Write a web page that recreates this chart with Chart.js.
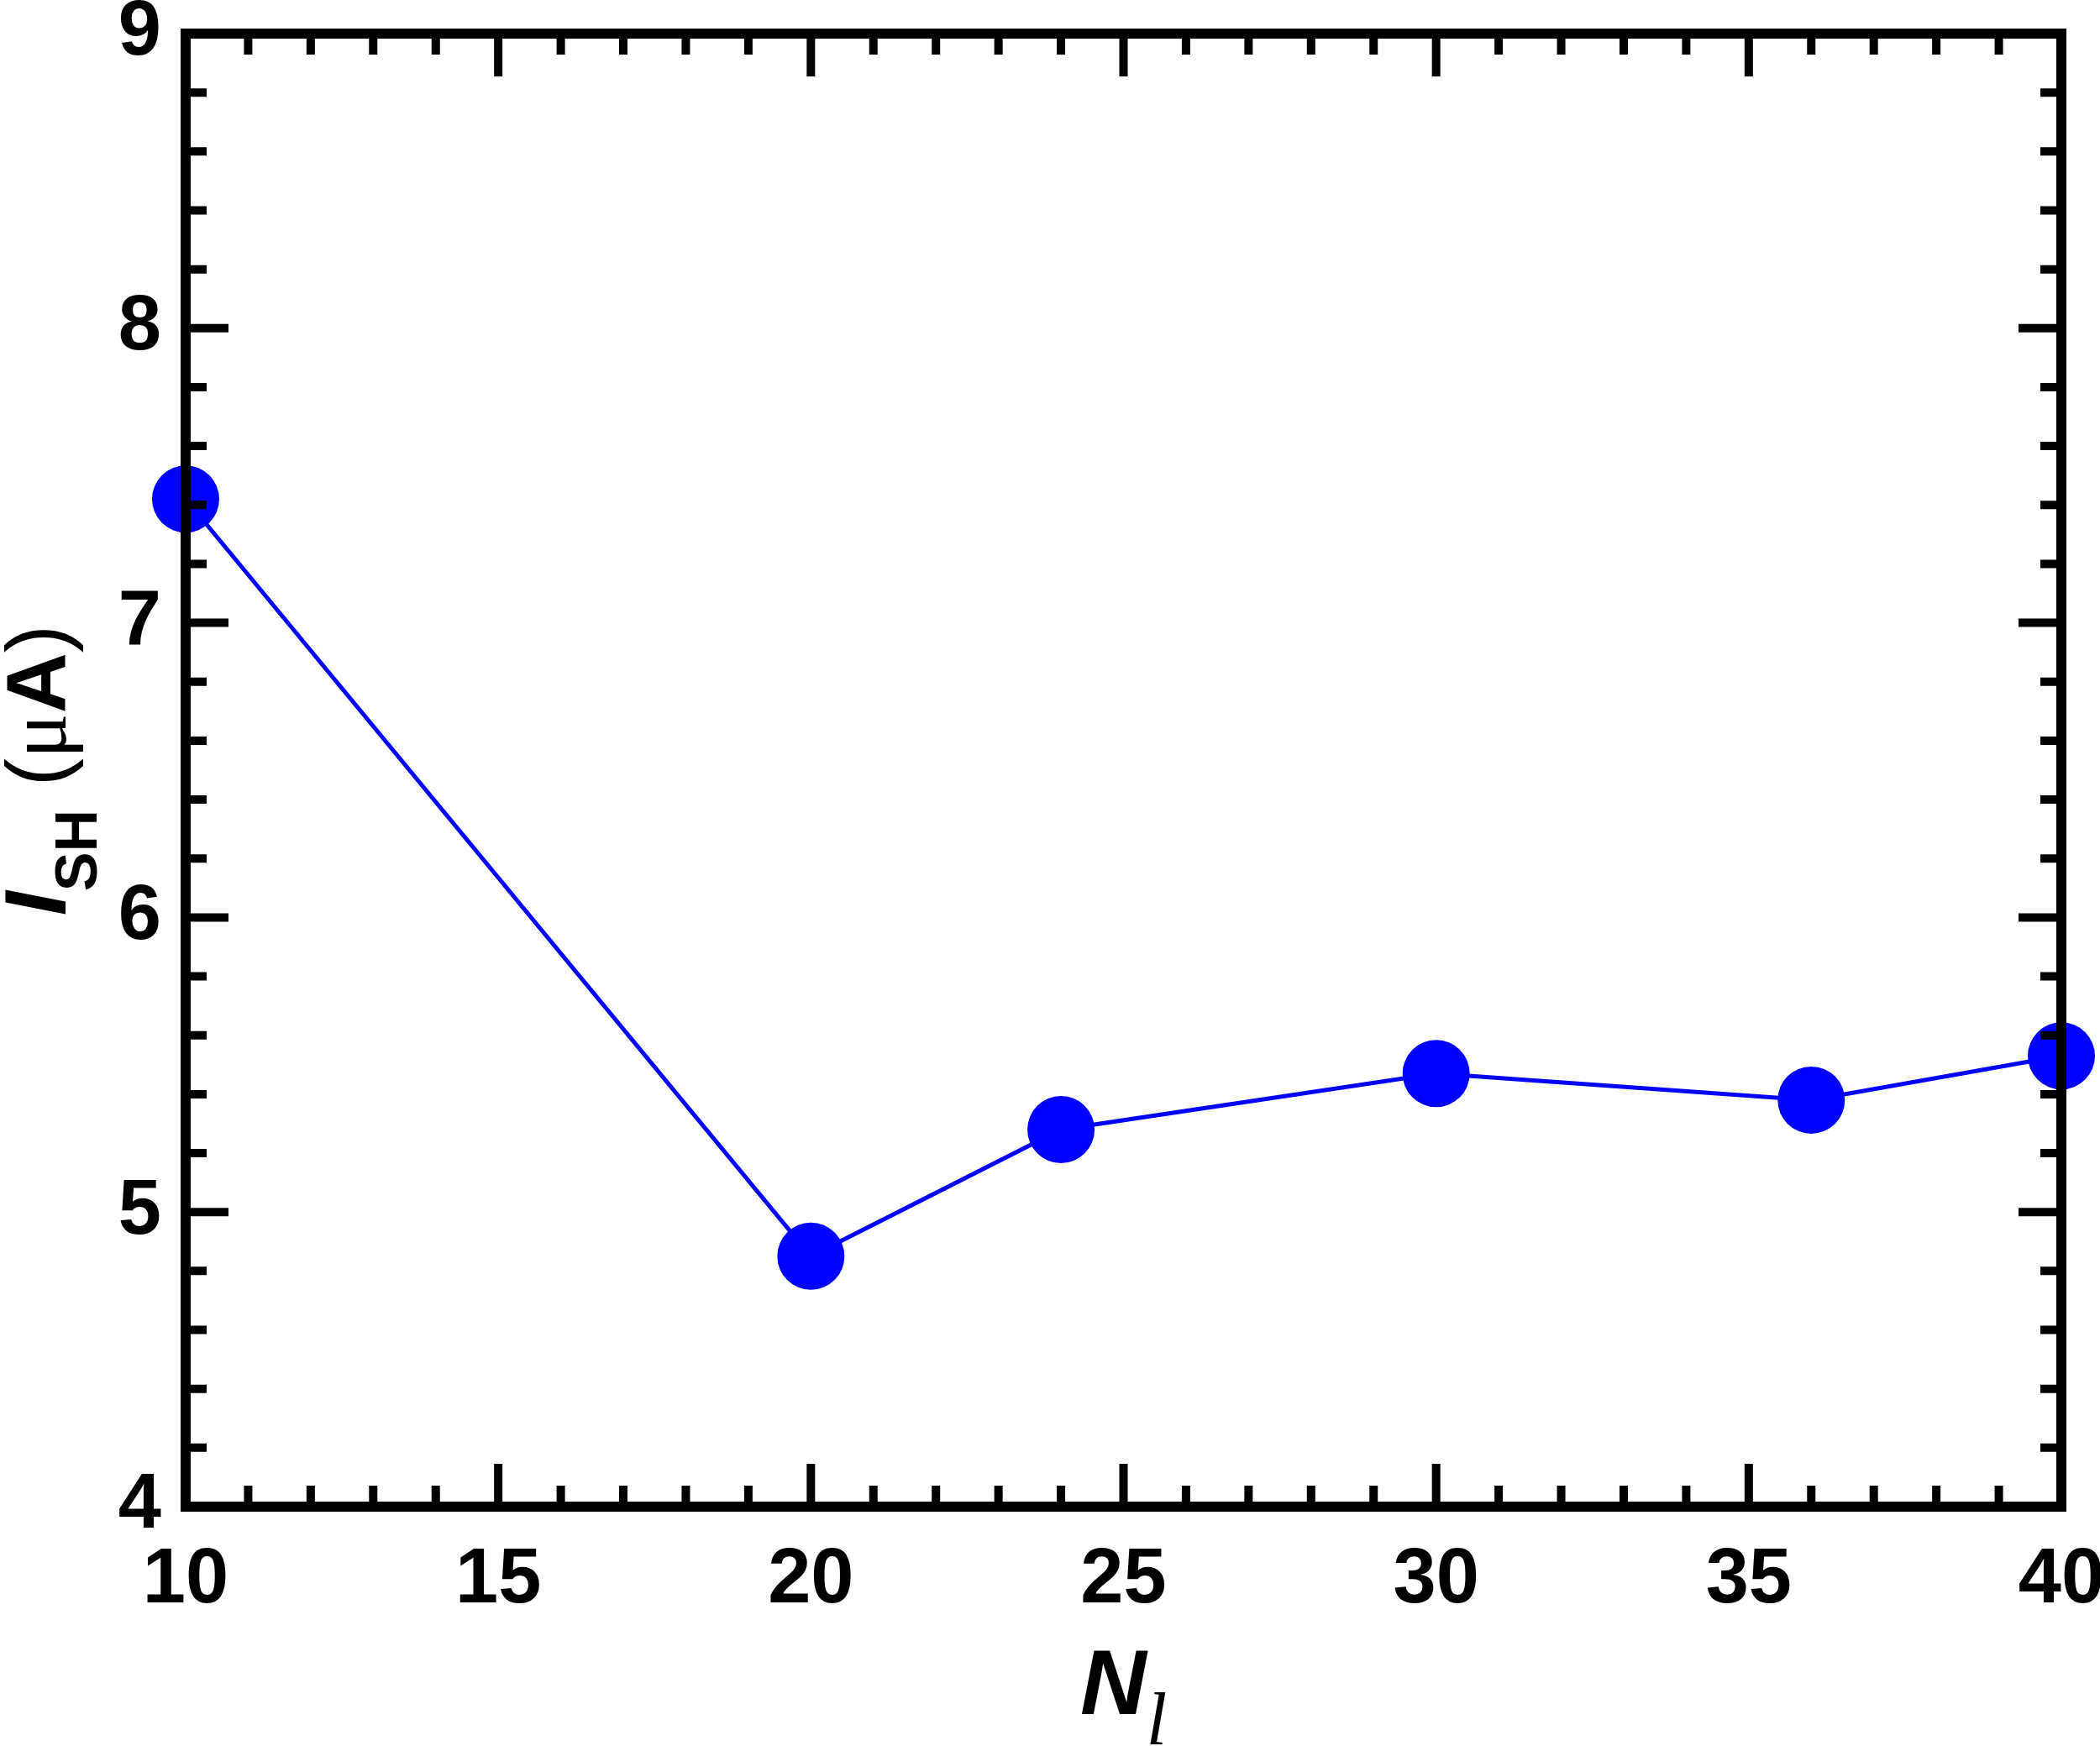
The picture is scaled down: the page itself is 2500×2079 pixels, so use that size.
<!DOCTYPE html>
<html>
<head>
<meta charset="utf-8">
<script src="https://cdn.jsdelivr.net/npm/chart.js@4/dist/chart.umd.min.js"></script>
<style>
  html, body { margin: 0; padding: 0; background: #fff; }
  #wrap { width: 2500px; height: 2079px; position: relative; }
</style>
</head>
<body>
<div id="wrap"><canvas id="myChart"></canvas></div>
<script>
// data
const nl = [10, 20, 24, 30, 36, 40];
const ish = [7.42, 4.85, 5.28, 5.47, 5.38, 5.53];
const xTicks = [10, 15, 20, 25, 30, 35, 40];
const yTicks = [4, 5, 6, 7, 8, 9];
const xMinorStep = 1;
const yMinorStep = 0.2;

const FONT = "'Liberation Sans', Arial, Helvetica, sans-serif";
const SERIF = "'Liberation Serif', 'Times New Roman', serif";

// frame with inward ticks on all four sides, drawn over the points
Chart.register({
    id: 'framePlugin',
    afterDatasetsDraw: function(chart) {
        const ctx = chart.ctx;
        const a = chart.chartArea;
        const xs = chart.scales.x;
        const ys = chart.scales.y;
        const majorLen = 51, minorLen = 25;

        ctx.save();
        ctx.strokeStyle = '#000';
        ctx.lineCap = 'butt';

        // ticks
        ctx.lineWidth = 10;
        ctx.beginPath();
        for (let v = xs.min; v <= xs.max + 1e-9; v += xMinorStep) {
            const px = xs.getPixelForValue(v);
            const len = xTicks.some(t => Math.abs(t - v) < 1e-6) ? majorLen : minorLen;
            ctx.moveTo(px, a.bottom); ctx.lineTo(px, a.bottom - len);
            ctx.moveTo(px, a.top); ctx.lineTo(px, a.top + len);
        }
        for (let v = ys.min; v <= ys.max + 1e-9; v += yMinorStep) {
            const py = ys.getPixelForValue(v);
            const len = yTicks.some(t => Math.abs(t - v) < 1e-6) ? majorLen : minorLen;
            ctx.moveTo(a.left, py); ctx.lineTo(a.left + len, py);
            ctx.moveTo(a.right, py); ctx.lineTo(a.right - len, py);
        }
        ctx.stroke();

        // box
        ctx.lineWidth = 12;
        ctx.lineJoin = 'miter';
        ctx.strokeRect(a.left, a.top, a.right - a.left, a.bottom - a.top);
        ctx.restore();
    },
    afterDraw: function(chart) {
        const ctx = chart.ctx;
        const a = chart.chartArea;
        ctx.save();
        ctx.fillStyle = '#000';
        ctx.textBaseline = 'alphabetic';
        ctx.textAlign = 'left';

        // x title: N_l
        const fN = 'italic bold 109px ' + FONT;
        const fl = 'italic 88px ' + SERIF;
        ctx.font = fN; const wN = ctx.measureText('N').width;
        ctx.font = fl; const wl = ctx.measureText('l').width;
        let x0 = (a.left + a.right) / 2 - (wN + wl) / 2;
        ctx.font = fN; ctx.fillText('N', x0, 2041);
        ctx.font = fl; ctx.fillText('l', x0 + wN, 2077);

        // y title: I_SH (μA), rotated
        const parts = [
            { t: 'I', f: 'italic bold 104px ' + FONT, dy: 0 },
            { t: 'SH', f: 'bold 70px ' + FONT, dy: 37 },
            { t: ' (', f: '100px ' + FONT, dy: 0 },
            { t: 'μ', f: '100px ' + SERIF, dy: 0 },
            { t: 'A', f: 'bold 100px ' + FONT, dy: 0 },
            { t: ')', f: '100px ' + FONT, dy: 0 }
        ];
        let total = 0;
        parts.forEach(p => { ctx.font = p.f; p.w = ctx.measureText(p.t).width; total += p.w; });
        ctx.translate(78, (a.top + a.bottom) / 2);
        ctx.rotate(-Math.PI / 2);
        let cx = -total / 2;
        parts.forEach(p => { ctx.font = p.f; ctx.fillText(p.t, cx, p.dy); cx += p.w; });
        ctx.restore();
    }
});

const ctx = document.getElementById('myChart').getContext('2d');

const myChart = new Chart(ctx, {
    type: 'scatter',
    data: {
        datasets: [{
            data: nl.map((v, i) => ({ x: v, y: ish[i] })),
            showLine: true,
            borderColor: '#0000FF',
            borderWidth: 5,
            backgroundColor: '#0000FF',
            pointBackgroundColor: '#0000FF',
            pointBorderWidth: 0,
            pointRadius: 40,
            pointHoverRadius: 40,
            clip: false
        }]
    },
    options: {
        responsive: true,
        maintainAspectRatio: false,
        animation: false,
        events: [],
        layout: { padding: { top: 33, right: 46, left: 0, bottom: 0 } },
        plugins: { legend: { display: false }, tooltip: { enabled: false } },
        scales: {
            x: {
                type: 'linear',
                min: 10, max: 40,
                border: { display: false },
                grid: { display: false, drawTicks: false },
                afterBuildTicks: function(scale) {
                    scale.ticks = xTicks.map(v => ({ value: v }));
                },
                ticks: {
                    color: '#000',
                    padding: 33,
                    maxRotation: 0,
                    autoSkip: false,
                    font: { family: FONT, size: 92, weight: 'bold' }
                },
                afterFit: function(scale) {
                    scale.height = 285;
                    scale.paddingLeft = 0; scale.paddingRight = 0;
                }
            },
            y: {
                type: 'linear',
                min: 4, max: 9,
                border: { display: false },
                grid: { display: false, drawTicks: false },
                afterBuildTicks: function(scale) {
                    scale.ticks = yTicks.map(v => ({ value: v }));
                },
                ticks: {
                    color: '#000',
                    padding: 29,
                    autoSkip: false,
                    font: { family: FONT, size: 92, weight: 'bold' }
                },
                afterFit: function(scale) {
                    scale.width = 221;
                    scale.paddingTop = 0; scale.paddingBottom = 0;
                }
            }
        }
    }
});
</script>
</body>
</html>
